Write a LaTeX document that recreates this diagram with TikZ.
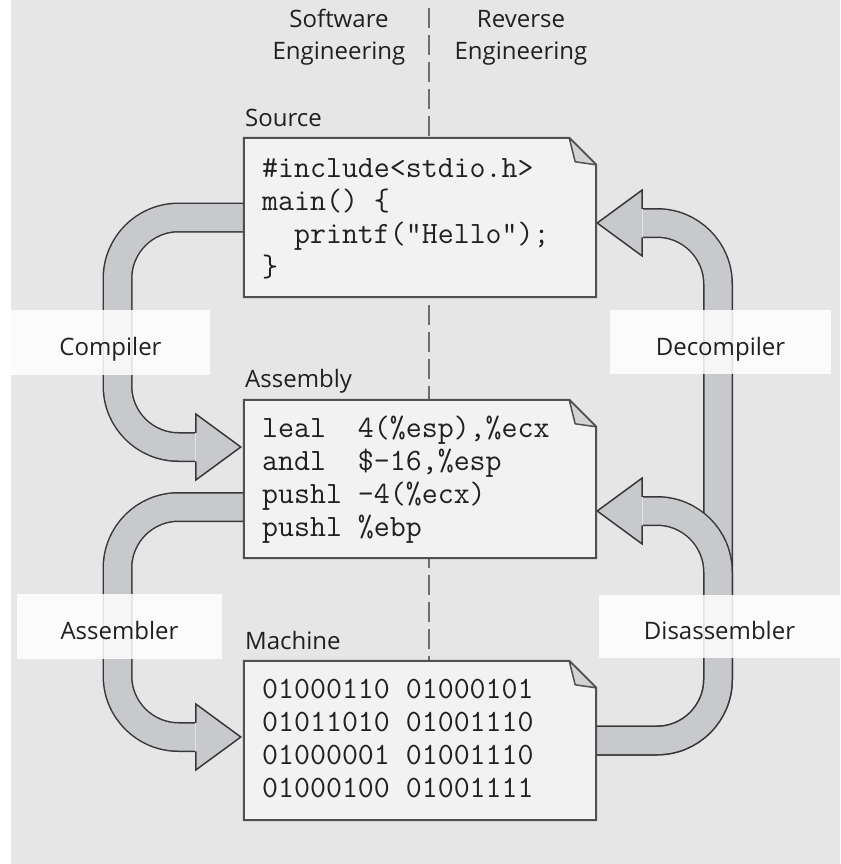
\documentclass[tikz,border=0pt]{standalone}
\usepackage{fontspec}
\setmainfont{Open Sans}
\usetikzlibrary{calc}

\definecolor{bg}{HTML}{E6E6E6}
\definecolor{paper}{HTML}{F2F2F2}
\definecolor{edge}{HTML}{505050}
\definecolor{bandfill}{HTML}{C8C9CC}
\definecolor{foldfill}{HTML}{D2D3D5}
\definecolor{bandedge}{HTML}{383838}
\definecolor{ink}{HTML}{231F20}
\definecolor{axis}{HTML}{6E6E6E}

% filled arrow head: #1 = tip coordinate, #2 = signed length back to the base
\newcommand{\fathd}[2]{%
  \filldraw[fathead] ($(#1)+(#2,-14.25)$) -- ($(#1)+(#2,-33)$) -- (#1)
    -- ($(#1)+(#2,33)$) -- ($(#1)+(#2,14.25)$);}

\begin{document}
\begin{tikzpicture}[x=1pt,y=-1pt,
  every node/.style={text=ink},
  docbox/.style={minimum width=352pt, inner sep=0pt, draw=none},
  sheetline/.style={fill=paper, draw=edge, line width=2pt, line join=miter},
  foldpart/.style={fill=foldfill, draw=edge, line width=1.5pt, line join=round},
  doctitle/.style={anchor=base west, inner sep=0pt, font=\fontsize{24}{30}\selectfont},
  codeblk/.style={anchor=base west, inner sep=0pt, font=\ttfamily\fontsize{31}{33}\selectfont},
  hdr/.style={anchor=base, inner sep=0pt, font=\fontsize{24}{30}\selectfont},
  fatband/.style={draw=bandedge, line width=1.5pt, double=bandfill,
    double distance=27pt, rounded corners=61pt},
  fathead/.style={fill=bandfill, draw=bandedge, line width=1.5pt, line join=miter},
  steplabel/.style={fill=white, fill opacity=0.85, text opacity=1, inner sep=0pt,
    text height=26pt, text depth=0pt, font=\fontsize{24}{30}\selectfont},
  axisline/.style={draw=axis, line width=2pt, dash pattern=on 20pt off 7pt}
]
\useasboundingbox (0,0) rectangle (840,864);
\fill[bg] (11,0) rectangle (840,864);

% the three documents (outlines drawn further down)
\node[docbox, minimum height=159pt] (src) at (420,217.5) {};
\node[docbox, minimum height=158pt] (asm) at (420,479) {};
\node[docbox, minimum height=159pt] (bin) at (420,740.5) {};

% dashed divider between the two disciplines
\coordinate (axtop) at (429,8);
\draw[axisline] (axtop) -- (bin.north -| axtop);

% arrow tips and the two vertical lanes
\coordinate (cTip) at ($(asm.west)+(-3,-32)$);
\coordinate (aTip) at ($(bin.west)+(-3,-3.5)$);
\coordinate (dTip) at ($(src.east)+(1,5.5)$);
\coordinate (sTip) at ($(asm.east)+(1,32)$);
\coordinate (lcol) at (117.5,0);
\coordinate (rcol) at (718,0);

% reverse engineering: decompiler, then disassembler on top of it
\draw[fatband] ($(bin.east)+(-8,0)$) -| (rcol |- dTip) -- ($(dTip)+(46,0)$);
\fathd{dTip}{45}
\draw[fatband] ($(bin.east)+(-8,0)$) -| (rcol |- sTip) -- ($(sTip)+(46,0)$);
\fathd{sTip}{45}

% software engineering: compiler and assembler
\draw[fatband] ($(src.west)+(8,0)$) -| (lcol |- cTip) -- ($(cTip)+(-46,0)$);
\fathd{cTip}{-45}
\draw[fatband] ($(asm.west)+(8,28)$) -| (lcol |- aTip) -- ($(aTip)+(-46,0)$);
\fathd{aTip}{-45}

% document sheets with a folded corner
\foreach \b in {src,asm,bin}{
  \filldraw[sheetline] (\b.south west) -- (\b.north west)
    -- ($(\b.north east)+(-27,0)$) -- ($(\b.north east)+(0,27)$)
    -- (\b.south east) -- cycle;
  \filldraw[foldpart] ($(\b.north east)+(-27,0)$) -- ($(\b.north east)+(0,27)$)
    -- ($(\b.north east)+(-21,24)$) -- cycle;
}

% column headings
\node[hdr] (swA) at (339,28) {Software};
\node[hdr] (swB) at (339,60) {Engineering};
\node[hdr] (reA) at (521,28) {Reverse};
\node[hdr] (reB) at (521,60) {Engineering};

% document titles
\node[doctitle] (tSrc) at (245,126) {Source};
\node[doctitle] (tAsm) at (245,387) {Assembly};
\node[doctitle] (tBin) at (245,649) {Machine};

% document contents
\node[codeblk] (cSrc) at (262,177) {\vtop{\baselineskip=33pt
  \hbox{\#include<stdio.h>}
  \hbox{main() \{}
  \hbox{\phantom{xx}printf("Hello");}
  \hbox{\}}}};
\node[codeblk] (cAsm) at (262,437) {\vtop{\baselineskip=33pt
  \hbox{leal\ \ 4(\%esp),\%ecx}
  \hbox{andl\ \ \$-16,\%esp}
  \hbox{pushl -4(\%ecx)}
  \hbox{pushl \%ebp}}};
\node[codeblk] (cBin) at (262,698) {\vtop{\baselineskip=33pt
  \hbox{01000110 01000101}
  \hbox{01011010 01001110}
  \hbox{01000001 01001110}
  \hbox{01000100 01001111}}};

% tool labels over the arrows
\node[steplabel, minimum width=199pt, minimum height=65pt] (lblC) at (110.5,342.5) {Compiler};
\node[steplabel, minimum width=221pt, minimum height=64pt] (lblD) at (720.5,342) {Decompiler};
\node[steplabel, minimum width=205pt, minimum height=65pt] (lblA) at (119.5,626.5) {Assembler};
\node[steplabel, minimum width=241pt, minimum height=63pt] (lblS) at (719.5,626.5) {Disassembler};
\end{tikzpicture}
\end{document}
